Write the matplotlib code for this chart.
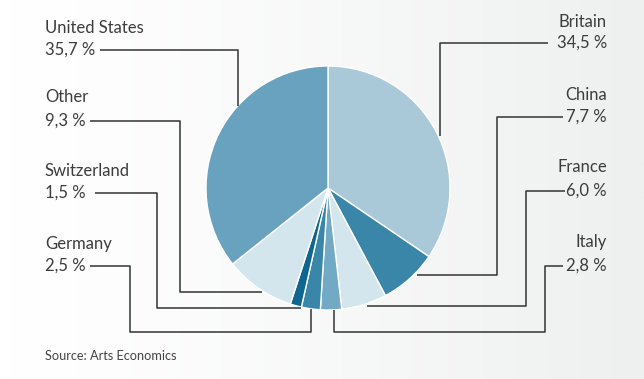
import numpy as np
import matplotlib
matplotlib.use("Agg")
import matplotlib.pyplot as plt
from matplotlib.colors import LinearSegmentedColormap

# ---- data ----
countries = ["Britain", "China", "France", "Italy", "Germany", "Switzerland", "Other", "United States"]
shares = [34.5, 7.7, 6.0, 2.8, 2.5, 1.5, 9.3, 35.7]
colors = ["#a9c9d9", "#3a86a8", "#d3e5ed", "#72a9c4", "#3a86a8", "#0f6690", "#d3e5ed", "#68a2be"]
source = "Source: Arts Economics"

W, H = 644, 379
fig = plt.figure(figsize=(W / 100, H / 100), dpi=100)
ax = fig.add_axes([0, 0, 1, 1])

# background gradient
grad = np.linspace(0, 1, 256)[None, :] ** 1.3
cmap = LinearSegmentedColormap.from_list("bg", ["#ffffff", "#eeefef"])
ax.imshow(grad, extent=[0, W, 0, H], aspect="auto", cmap=cmap, zorder=0)

cx, cy, r = 328, H - 188, 122
ax.pie(shares, colors=colors, startangle=90, counterclock=False,
       center=(cx, cy), radius=r,
       wedgeprops=dict(edgecolor="white", linewidth=1.0), frame=True)

ax.set_xlim(0, W)
ax.set_ylim(0, H)
ax.set_aspect("equal")
ax.axis("off")

# ---- labels & leader lines (layout in pixel coords, y from top) ----
def fmt(v):
    return f"{v:.1f}".replace(".", ",") + " %"

layout = {
    "United States": dict(side="L", ty=(28, 50), path=[(100, 50), (238, 50), (238, 106)]),
    "Other":         dict(side="L", ty=(97, 121), path=[(90, 121), (180, 121), (180, 292), (262, 292)]),
    "Switzerland":   dict(side="L", ty=(171, 193), path=[(95, 193), (157, 193), (157, 308), (301, 308)]),
    "Germany":       dict(side="L", ty=(244, 266), path=[(90, 266), (130, 266), (130, 332), (311, 332), (311, 309)]),
    "Britain":       dict(side="R", ty=(22, 43), path=[(548, 43), (440, 43), (440, 136)]),
    "China":         dict(side="R", ty=(95, 117), path=[(563, 117), (497, 117), (497, 275), (417, 275)]),
    "France":        dict(side="R", ty=(167, 191), path=[(565, 191), (526, 191), (526, 306), (367, 306)]),
    "Italy":         dict(side="R", ty=(242, 266), path=[(563, 266), (545, 266), (545, 332), (334, 332), (334, 310)]),
}

font = dict(family=["Lato", "DejaVu Sans"], fontsize=12, color="#3c3c3c")
for name, val in zip(countries, shares):
    L = layout[name]
    if L["side"] == "L":
        x, ha = 45, "left"
    else:
        x, ha = 607, "right"
    ax.text(x, H - L["ty"][0], name, ha=ha, va="center", **font)
    ax.text(x, H - L["ty"][1], fmt(val), ha=ha, va="center", **font)
    xs = [p[0] for p in L["path"]]
    ys = [H - p[1] for p in L["path"]]
    ax.plot(xs, ys, color="#333333", lw=1.1, solid_capstyle="butt", zorder=3)

ax.text(45, H - 356, source, ha="left", va="center",
        family=["Lato", "DejaVu Sans"], fontsize=9.2, color="#444444")

fig.savefig("out.png", dpi=100)
